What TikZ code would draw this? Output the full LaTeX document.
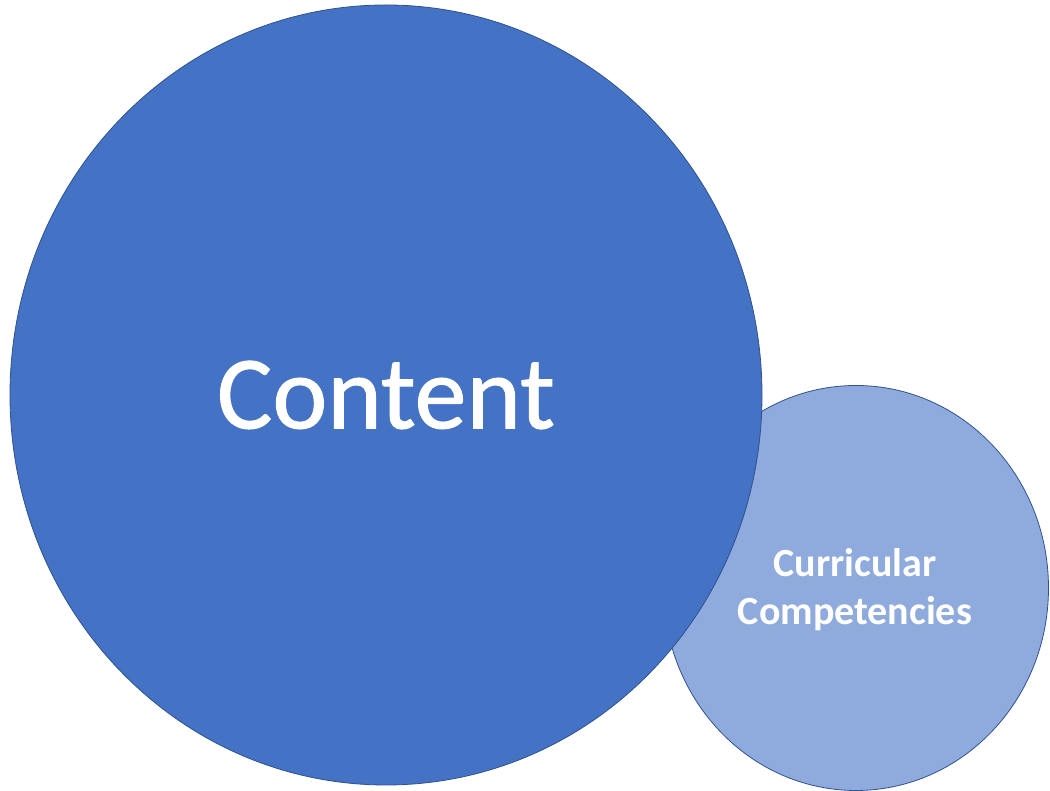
\documentclass[tikz,border=0pt]{standalone}
\usepackage{fontspec}
\setmainfont{Carlito}
\newfontfamily\heavyfont[FakeBold=0.9]{Carlito}
\usetikzlibrary{shapes.geometric}
\definecolor{bigblue}{HTML}{4472C4}
\definecolor{lightblue}{HTML}{8FAADC}
\definecolor{edgeblue}{HTML}{2F528F}
\begin{document}
\begin{tikzpicture}[x=1pt,y=1pt,
  bubble/.style={ellipse, draw=edgeblue, line width=0.8pt, inner sep=0pt},
  label/.style={text=white, align=center}]
\useasboundingbox (0,0) rectangle (1050,791);
\node[bubble, fill=lightblue, minimum width=385pt, minimum height=405pt] (cc) at (856,203) {};
\node[bubble, fill=bigblue, minimum width=752pt, minimum height=780pt] (content) at (386,396) {};
\node[label, font=\heavyfont\fontsize{104}{110}\selectfont] at (content.center) {Content};
\node[label, font=\bfseries\fontsize{40}{48}\selectfont] at (855,201) {Curricular\\Competencies};
\end{tikzpicture}
\end{document}
